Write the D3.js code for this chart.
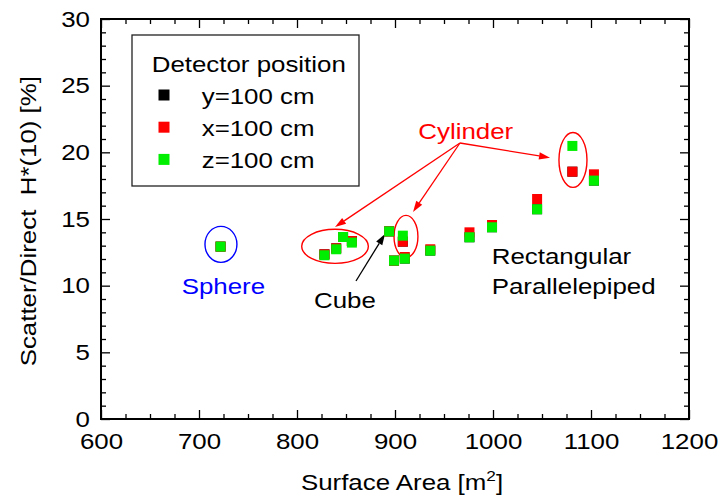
<!DOCTYPE html>
<html>
<head>
<meta charset="utf-8">
<script src="https://cdn.jsdelivr.net/npm/d3@7/dist/d3.min.js"></script>
<style>
  html, body { margin: 0; padding: 0; background: #fff; }
  svg { display: block; font-family: "Liberation Sans", Arial, Helvetica, sans-serif; }
</style>
</head>
<body>
<svg id="chart" width="720" height="501"></svg>
<script>
// Surface area of each phantom geometry [m^2]
const surfaceArea = [722, 828, 840, 847, 856, 894, 899, 908, 910, 936, 976, 999, 1045, 1081, 1103];
// Scatter/Direct H*(10) ratio [%] for each detector position
const ratioY = [12.93, 12.35, 12.80, 13.65, 13.35, 14.07, 11.88, 13.30, 12.03, 12.63, 13.63, 14.38, 15.73, 18.55, 17.88];
const ratioX = [12.93, 12.35, 12.80, 13.65, 13.35, 14.07, 11.88, 13.30, 12.15, 12.73, 14.00, 14.55, 16.50, 18.55, 18.35];
const ratioZ = [12.93, 12.28, 12.73, 13.65, 13.23, 14.07, 11.88, 13.75, 12.03, 12.63, 13.63, 14.38, 15.73, 20.48, 17.88];

const seriesNames = ["y=100 cm", "x=100 cm", "z=100 cm"];
const seriesColors = ["#000000", "#ff0000", "#00ee00"];
const seriesValues = [ratioY, ratioX, ratioZ];

const xTicks = [600, 700, 800, 900, 1000, 1100, 1200];
const yTicks = [0, 5, 10, 15, 20, 25, 30];

// Shape annotations (centres and half-axes in data units)
const ellipseCx = [722.4, 838.8, 911.2, 1081.6];
const ellipseCy = [13.10, 12.95, 13.69, 19.43];
const ellipseRx = [16.3, 34.0, 12.2, 14.3];
const ellipseRy = [1.35, 1.28, 1.58, 2.06];
const ellipseColors = ["#0000ff", "#ff0000", "#ff0000", "#ff0000"];

// Arrows: [x0, y0, x1, y1] in data units
const cylinderArrows = [
  [966.3, 20.7, 838.8, 14.40],
  [966.3, 20.7, 918.4, 15.53],
  [966.3, 20.7, 1058.2, 19.60]
];
const cubeArrow = [860.2, 10.35, 889.8, 13.88];

const labelTexts = ["Cylinder", "Sphere", "Cube", "Rectangular", "Parallelepiped"];
const labelX = [923.8, 682.3, 817.3, 998.7, 998.7];
const labelY = [20.98, 9.35, 8.33, 11.63, 9.35];
const labelColors = ["#ff0000", "#0000ff", "#000000", "#000000", "#000000"];

// ---- drawing ----
const FS = 22.5;     // font size
const SX = 1.15;     // horizontal glyph stretch

const svg = d3.select("#chart");
const x = d3.scaleLinear().domain([600, 1200]).range([101, 689]);
const y = d3.scaleLinear().domain([0, 30]).range([419, 19]);

const xMinor = d3.range(600, 1201, 25).filter(v => v % 100 !== 0);
const yMinor = d3.range(0, 31, 1).filter(v => v % 5 !== 0);

function styleAxis(g) {
  g.select(".domain").remove();
  g.selectAll(".tick line").attr("stroke", "#000").attr("stroke-width", 1.3);
  g.attr("font-family", null).attr("font-size", null);
}

// Bottom axis with labels
svg.append("g").attr("transform", "translate(0,419)")
  .call(d3.axisBottom(x).tickValues(xTicks).tickSize(-9).tickSizeOuter(0).tickPadding(14).tickFormat(d3.format("d")))
  .call(styleAxis)
  .call(g => g.selectAll("text").attr("fill", "#000").style("font-size", FS + "px")
    .attr("transform", `scale(${SX},1)`));
svg.append("g").attr("transform", "translate(0,419)")
  .call(d3.axisBottom(x).tickValues(xMinor).tickSize(-5).tickSizeOuter(0).tickFormat(""))
  .call(styleAxis);
// Top axis (ticks only)
svg.append("g").attr("transform", "translate(0,19)")
  .call(d3.axisTop(x).tickValues(xTicks).tickSize(-9).tickSizeOuter(0).tickFormat(""))
  .call(styleAxis);
svg.append("g").attr("transform", "translate(0,19)")
  .call(d3.axisTop(x).tickValues(xMinor).tickSize(-5).tickSizeOuter(0).tickFormat(""))
  .call(styleAxis);
// Left axis with labels
svg.append("g").attr("transform", "translate(101,0)")
  .call(d3.axisLeft(y).tickValues(yTicks).tickSize(-9).tickSizeOuter(0).tickPadding(11).tickFormat(d3.format("d")))
  .call(styleAxis)
  .call(g => g.selectAll("text").attr("fill", "#000").style("font-size", FS + "px")
    .attr("x", -11 / SX).attr("transform", `scale(${SX},1)`));
svg.append("g").attr("transform", "translate(101,0)")
  .call(d3.axisLeft(y).tickValues(yMinor).tickSize(-5).tickSizeOuter(0).tickFormat(""))
  .call(styleAxis);
// Right axis (ticks only)
svg.append("g").attr("transform", "translate(689,0)")
  .call(d3.axisRight(y).tickValues(yTicks).tickSize(-9).tickSizeOuter(0).tickFormat(""))
  .call(styleAxis);
svg.append("g").attr("transform", "translate(689,0)")
  .call(d3.axisRight(y).tickValues(yMinor).tickSize(-5).tickSizeOuter(0).tickFormat(""))
  .call(styleAxis);

// Frame
svg.append("rect")
  .attr("x", x(600)).attr("y", y(30))
  .attr("width", x(1200) - x(600)).attr("height", y(0) - y(30))
  .attr("fill", "none").attr("stroke", "#000").attr("stroke-width", 2);

// Axis titles
const xt = svg.append("text")
  .attr("transform", `translate(402,490) scale(${SX},1)`)
  .attr("text-anchor", "middle").style("font-size", FS + "px").attr("fill", "#000");
xt.append("tspan").text("Surface Area [m");
xt.append("tspan").attr("dy", -9).style("font-size", "15px").text("2");
xt.append("tspan").attr("dy", 9).text("]");

svg.append("text")
  .attr("transform", `translate(36,76) rotate(-90) scale(${SX},1)`)
  .attr("text-anchor", "end").style("font-size", FS + "px").attr("fill", "#000")
  .style("white-space", "pre").attr("xml:space", "preserve")
  .text("Scatter/Direct  H*(10) [%]");

// Annotation ellipses
svg.append("g").selectAll("ellipse")
  .data(d3.range(ellipseCx.length))
  .join("ellipse")
  .attr("cx", i => x(ellipseCx[i]))
  .attr("cy", i => y(ellipseCy[i]))
  .attr("rx", i => x(ellipseCx[i] + ellipseRx[i]) - x(ellipseCx[i]))
  .attr("ry", i => y(ellipseCy[i] - ellipseRy[i]) - y(ellipseCy[i]))
  .attr("fill", "none")
  .attr("stroke", i => ellipseColors[i])
  .attr("stroke-width", 1.4);

// Arrows with filled heads
function arrow(a, color) {
  const x0 = x(a[0]), y0 = y(a[1]), x1 = x(a[2]), y1 = y(a[3]);
  const ang = Math.atan2(y1 - y0, x1 - x0);
  const len = 11, half = 3.6;
  const bx = x1 - len * Math.cos(ang), by = y1 - len * Math.sin(ang);
  svg.append("line")
    .attr("x1", x0).attr("y1", y0).attr("x2", bx).attr("y2", by)
    .attr("stroke", color).attr("stroke-width", 1.3);
  const px = -Math.sin(ang) * half, py = Math.cos(ang) * half;
  svg.append("path")
    .attr("d", `M${x1},${y1}L${bx + px},${by + py}L${bx - px},${by - py}Z`)
    .attr("fill", color);
}
cylinderArrows.forEach(a => arrow(a, "#ff0000"));
arrow(cubeArrow, "#000000");

// Annotation labels
svg.append("g").selectAll("text")
  .data(d3.range(labelTexts.length))
  .join("text")
  .attr("transform", i => `translate(${x(labelX[i])},${y(labelY[i])}) scale(${SX},1)`)
  .style("font-size", FS + "px")
  .attr("fill", i => labelColors[i])
  .text(i => labelTexts[i]);

// Data markers: y, then x, then z on top
const MS = 10;
seriesValues.forEach((vals, s) => {
  svg.append("g").selectAll("rect")
    .data(vals.map((v, i) => [surfaceArea[i], v]))
    .join("rect")
    .attr("x", d => x(d[0]) - MS / 2)
    .attr("y", d => y(d[1]) - MS / 2)
    .attr("width", MS).attr("height", MS)
    .attr("fill", seriesColors[s]);
});

// Legend
const lg = svg.append("g");
lg.append("rect").attr("x", 132).attr("y", 35).attr("width", 227).attr("height", 151)
  .attr("fill", "#fff").attr("stroke", "#222").attr("stroke-width", 1.3);
lg.append("text")
  .attr("transform", `translate(151.7,71.7) scale(${SX},1)`)
  .style("font-size", FS + "px").attr("fill", "#000").text("Detector position");
seriesNames.forEach((name, i) => {
  const cy = 95 + i * 32.2;
  lg.append("rect").attr("x", 158.5).attr("y", cy - 5.5).attr("width", 11).attr("height", 11)
    .attr("fill", seriesColors[i]);
  lg.append("text")
    .attr("transform", `translate(201.7,${cy + 9}) scale(${SX},1)`)
    .style("font-size", FS + "px").attr("fill", "#000").text(name);
});
</script>
</body>
</html>
